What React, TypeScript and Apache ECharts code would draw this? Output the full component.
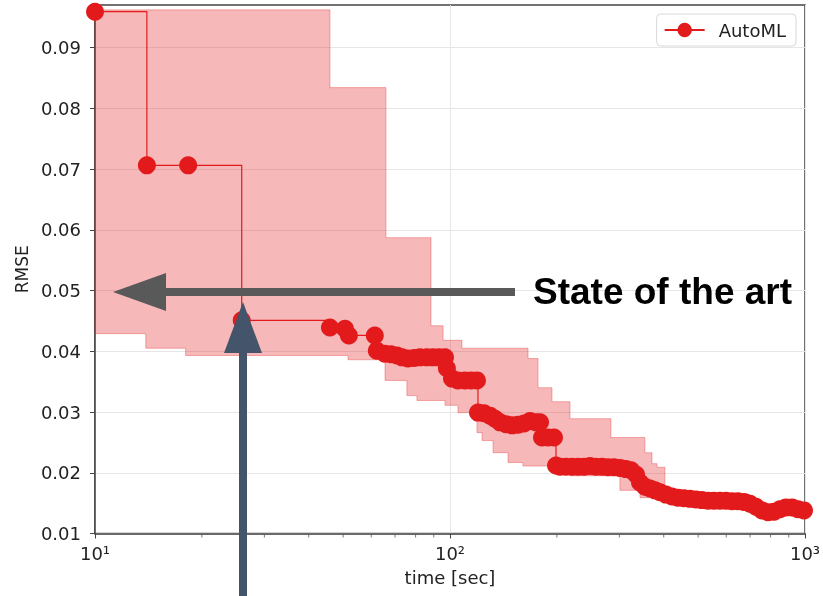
import { useEffect, useRef } from 'react';
import * as echarts from 'echarts';

// Mean RMSE (best so far) over time, drawn as a step line with markers
const meanTime = [10, 14.0, 18.3, 25.9, 45.9, 50.6, 51.9, 61.4, 62.2, 65.6, 68.2, 70.9, 73.3, 76.1, 79.2, 82.3, 86.1, 89.6, 93.1, 96.8, 98.0, 101.3, 105.3, 110.2, 114.6, 119.1, 119.9, 124.7, 129.6, 133.9, 138.3, 143.8, 149.5, 155.4, 161.6, 168.0, 174.7, 179.3, 181.6, 188.9, 196.3, 198.9, 204.1, 212.2, 220.7, 229.4, 238.5, 248.0, 257.8, 268.1, 278.7, 289.7, 301.2, 313.1, 323.6, 334.2, 343, 354.3, 366.0, 378.1, 390.5, 406.0, 422.1, 438.8, 456.2, 474.4, 493.2, 512.8, 533.1, 554.2, 576.2, 599.1, 622.9, 647.6, 673.3, 700.0, 727.8, 756.7, 786.7, 817.9, 850.3, 884.1, 919.1, 955.6, 993.5];
const meanRmse = [0.0959, 0.0706, 0.0706, 0.0451, 0.0439, 0.0437, 0.0426, 0.0426, 0.0401, 0.0396, 0.0395, 0.0393, 0.0390, 0.0388, 0.0389, 0.0390, 0.0390, 0.0390, 0.0390, 0.0390, 0.0372, 0.0355, 0.0352, 0.0352, 0.0352, 0.0352, 0.0299, 0.0298, 0.0294, 0.0289, 0.0283, 0.0280, 0.0278, 0.0279, 0.0281, 0.0285, 0.0283, 0.0283, 0.0258, 0.0258, 0.0258, 0.0212, 0.0210, 0.0210, 0.0210, 0.0210, 0.0210, 0.0211, 0.0210, 0.0210, 0.0209, 0.0209, 0.0208, 0.0206, 0.0204, 0.0197, 0.0184, 0.0177, 0.0174, 0.0171, 0.0168, 0.0164, 0.0161, 0.0159, 0.0158, 0.0157, 0.0156, 0.0155, 0.0154, 0.0154, 0.0154, 0.0154, 0.0153, 0.0153, 0.0152, 0.0149, 0.0144, 0.0138, 0.0135, 0.0136, 0.0140, 0.0143, 0.0143, 0.0140, 0.0138];

// Uncertainty band (step edges: value holds from t[i] to t[i+1])
const upperT = [10, 45.9, 66.0, 88.4, 95.6, 108.1, 165.9, 177, 193.8, 217.8, 284, 354, 370.7, 383, 403, 700];
const upperV = [0.0962, 0.0834, 0.0587, 0.0442, 0.0418, 0.0405, 0.0388, 0.0340, 0.0317, 0.0289, 0.0258, 0.0233, 0.0215, 0.0209, 0.0164, 0.0147];
const lowerT = [10, 13.9, 18.0, 51.6, 65.6, 75.6, 80.7, 96.8, 105.3, 119.1, 123.1, 132.2, 145.7, 160.5, 217.8, 301, 343, 403, 656];
const lowerV = [0.0429, 0.0405, 0.0393, 0.0386, 0.0352, 0.0327, 0.0319, 0.0311, 0.0299, 0.0266, 0.0253, 0.0233, 0.0217, 0.0211, 0.0195, 0.0171, 0.0159, 0.0151, 0.0140];

const xMin = 10;
const xMax = 1000;
const yMin = 0.01;
const yMax = 0.097;
const yTicks = [0.01, 0.02, 0.03, 0.04, 0.05, 0.06, 0.07, 0.08, 0.09];
const xTickLabels: Record<string, string> = { '10': '10¹', '100': '10²', '1000': '10³' };
const minorTicks = [20, 30, 40, 50, 60, 70, 80, 90, 200, 300, 400, 500, 600, 700, 800, 900];

const seriesName = 'AutoML';
const xName = 'time [sec]';
const yName = 'RMSE';
const annotation = 'State of the art';

const RED = '#e31a1c';
const FONT = 'DejaVu Sans';

export default function App() {
  const ref = useRef<HTMLDivElement>(null);

  useEffect(() => {
    const chart = echarts.init(ref.current!, null, { renderer: 'svg' });

    const option: any = {
      animation: false,
      textStyle: { fontFamily: FONT },
      grid: {
        left: 95,
        right: 18,
        top: 5,
        bottom: 62.5,
        show: true,
        borderColor: '#444',
        borderWidth: 1.5,
        outerBoundsMode: 'none',
      },
      legend: {
        data: [seriesName],
        right: 27,
        top: 14,
        backgroundColor: '#fff',
        borderColor: '#d8d8d8',
        borderWidth: 1,
        borderRadius: 4,
        padding: [7, 10, 7, 7],
        itemWidth: 40,
        itemHeight: 18,
        textStyle: { fontFamily: FONT, fontSize: 18, color: '#222', padding: [0, 0, 0, 9] },
      },
      xAxis: {
        type: 'log',
        logBase: 10,
        min: xMin,
        max: xMax,
        name: xName,
        nameLocation: 'middle',
        nameGap: 35,
        nameTextStyle: { fontFamily: FONT, fontSize: 18, color: '#222' },
        axisLine: { lineStyle: { color: '#444', width: 1.5 } },
        axisTick: { show: true, length: 5, lineStyle: { color: '#444', width: 1 } },
        axisLabel: {
          fontFamily: FONT,
          fontSize: 18,
          color: '#222',
          margin: 11,
          formatter: (v: number) => xTickLabels[String(Math.round(v))] ?? '',
        },
        splitLine: { show: true, lineStyle: { color: '#e6e6e6', width: 1 } },
      },
      yAxis: {
        type: 'value',
        min: yMin,
        max: yMax,
        interval: 0.01,
        name: yName,
        nameLocation: 'middle',
        nameGap: 61,
        nameRotate: 90,
        nameTextStyle: { fontFamily: FONT, fontSize: 17, color: '#222' },
        axisLine: { show: true, lineStyle: { color: '#444', width: 1.5 } },
        axisTick: { show: true, length: 5, lineStyle: { color: '#444', width: 1 }, customValues: yTicks },
        axisLabel: {
          fontFamily: FONT,
          fontSize: 18,
          color: '#222',
          margin: 14,
          customValues: yTicks,
          formatter: (v: number) => v.toFixed(2),
        },
        splitLine: { show: true, lineStyle: { color: '#e6e6e6', width: 1 } },
      },
      series: [
        {
          type: 'custom',
          name: 'band',
          silent: true,
          z: 1,
          data: [[xMin, yMin]],
          encode: { x: 0, y: 1 },
          renderItem: (params: any, api: any) => {
            if (params.dataIndex !== 0) return null;
            const pts: number[][] = [];
            for (let i = 0; i < upperT.length; i++) {
              const t1 = i + 1 < upperT.length ? upperT[i + 1] : xMax;
              pts.push(api.coord([upperT[i], upperV[i]]));
              pts.push(api.coord([t1, upperV[i]]));
            }
            for (let i = lowerT.length - 1; i >= 0; i--) {
              const t1 = i + 1 < lowerT.length ? lowerT[i + 1] : xMax;
              pts.push(api.coord([t1, lowerV[i]]));
              pts.push(api.coord([lowerT[i], lowerV[i]]));
            }
            return {
              type: 'polygon',
              shape: { points: pts },
              style: { fill: 'rgba(227,26,28,0.31)', stroke: 'rgba(227,26,28,0.32)', lineWidth: 1 },
            };
          },
        },
        {
          type: 'custom',
          name: 'minorTicks',
          silent: true,
          clip: false,
          z: 3,
          data: minorTicks.map((t) => [t, yMin]),
          encode: { x: 0, y: 1 },
          renderItem: (params: any, api: any) => {
            const p = api.coord([api.value(0), yMin]);
            return {
              type: 'line',
              shape: { x1: p[0], y1: p[1] + 0.75, x2: p[0], y2: p[1] + 4 },
              style: { stroke: '#555', lineWidth: 0.8 },
            };
          },
        },
        {
          type: 'line',
          name: seriesName,
          step: 'end',
          z: 5,
          data: meanTime.map((t, i) => [t, meanRmse[i]]),
          symbol: 'circle',
          symbolSize: 18,
          showAllSymbol: true,
          itemStyle: { color: RED },
          lineStyle: { color: RED, width: 1.2 },
        },
      ],
      graphic: [
        { type: 'rect', z: 100, shape: { x: 160, y: 288, width: 355, height: 8 }, style: { fill: '#595959' } },
        { type: 'polygon', z: 100, shape: { points: [[113, 292], [166, 273], [166, 311]] }, style: { fill: '#595959' } },
        { type: 'rect', z: 100, shape: { x: 239, y: 348, width: 8, height: 260 }, style: { fill: '#44546a' } },
        { type: 'polygon', z: 100, shape: { points: [[243, 302], [224, 353], [262, 353]] }, style: { fill: '#44546a' } },
        {
          type: 'text',
          z: 100,
          x: 533,
          y: 291,
          style: {
            text: annotation,
            fontFamily: 'Liberation Sans, Arial, sans-serif',
            fontWeight: 'bold',
            fontSize: 37,
            fill: '#000',
            verticalAlign: 'middle',
            align: 'left',
          },
        },
      ],
    };

    chart.setOption(option);
    return () => chart.dispose();
  }, []);

  return <div ref={ref} style={{ position: 'fixed', left: 0, top: 0, width: 823, height: 596 }} />;
}
